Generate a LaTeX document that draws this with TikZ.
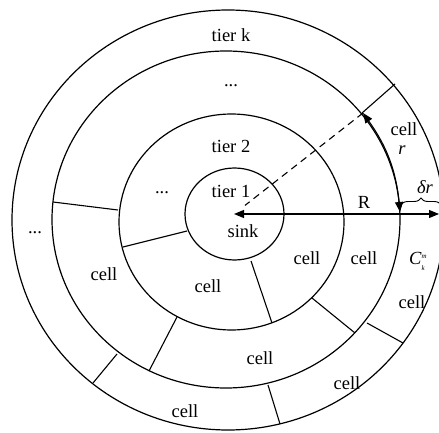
\documentclass[tikz,border=0pt]{standalone}
\usepackage{fontspec}
\setmainfont{Liberation Serif}
\usetikzlibrary{arrows.meta,decorations.pathreplacing}
\begin{document}
\begin{tikzpicture}[x=1pt,y=-1pt,line width=1.1pt,
  >={Triangle[length=10pt,width=8pt]},
  lbl/.style={font=\fontsize{18.5}{20}\selectfont,inner sep=0pt},
  ring/.style={line width=1.2pt},
  wall/.style={line width=1.1pt}]
\useasboundingbox (0,0) rectangle (439,433);
\clip (0,0) rectangle (439,433);
% rings
\draw[ring] (228,220) ellipse [x radius=216, y radius=210];
\draw[ring] (226,219.5) ellipse [x radius=174, y radius=168.5];
\draw[ring] (231.5,222) ellipse [x radius=112.5, y radius=108];
\draw[ring] (234.5,214) ellipse [x radius=49.5, y radius=46];
% cell walls, tier 2
\draw[wall] (123,247) -- (187,231);
\draw[wall] (251,261) -- (272,323);
% cell walls, middle ring
\draw[wall] (53,202) -- (118,210);
\draw[wall] (177,317) -- (149,371);
\draw[wall] (312,298) -- (355,333);
% cell walls, outer ring
\draw[wall] (395,84) -- (362,113);
\draw[wall] (367,323) -- (403,343);
\draw[wall] (268,385) -- (280,424);
\draw[wall] (117,354) -- (93,383);
% key points
\coordinate (O) at (234,214);
\coordinate (E) at (439,214);
\coordinate (P) at (363,113);
\coordinate (Q) at (400,212);
% radius R
\draw[<->] (O) -- (E);
\draw[dash pattern=on 7pt off 5pt,shorten >=14pt] (P) -- (O);
% arc r
\draw[<->] (P) to[bend left=15] (Q);
% brace delta r
\draw[line width=0.9pt,decorate,decoration={brace,amplitude=7pt}] (401,205) -- (441,205);
% labels
\node[lbl] (tk) at (231,35) {tier k};
\node[lbl] (d1) at (231,86) {...};
\node[lbl] (t2) at (231,146) {tier 2};
\node[lbl] (t1) at (231,191) {tier 1};
\node[lbl] (sk) at (243,231) {sink};
\node[lbl] (d2) at (162,193) {...};
\node[lbl] (d3) at (35,233) {...};
\node[lbl] (c1) at (104,274) {cell};
\node[lbl] (c2) at (208,286) {cell};
\node[lbl] (c3) at (307,258) {cell};
\node[lbl] (c4) at (364,258) {cell};
\node[lbl] (c5) at (412,302) {cell};
\node[lbl] (c6) at (260,358) {cell};
\node[lbl] (c7) at (347,383) {cell};
\node[lbl] (c8) at (185,411) {cell};
\node[lbl] (c9) at (404,129) {cell};
\node[lbl] (lr) at (402,150) {\textit{r}};
\node[lbl] (lR) at (364,202) {R};
\node[lbl] (ldr) at (425,187) {\textit{δr}};
\node[lbl] (lC) at (418,261) {\textit{C}\rlap{\raisebox{-6pt}{\fontsize{7}{7}\selectfont\itshape k}}\raisebox{6pt}{\fontsize{7}{7}\selectfont\itshape m}};
\end{tikzpicture}
\end{document}
